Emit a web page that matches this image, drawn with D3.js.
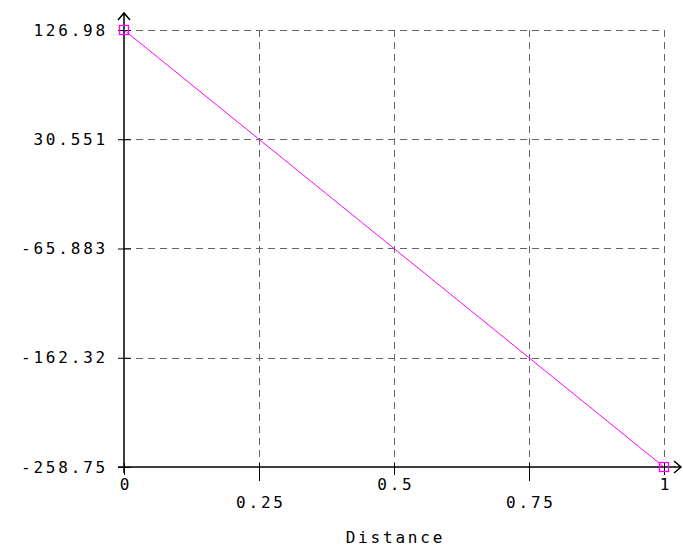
<!DOCTYPE html>
<html>
<head>
<meta charset="utf-8">
<script src="https://cdn.jsdelivr.net/npm/d3@7"></script>
<style>
  body { margin: 0; background: #fff; }
  text { font-family: "DejaVu Sans Mono", monospace; font-size: 16px; letter-spacing: 2.8px; fill: #000; }
</style>
</head>
<body>
<div id="chart"></div>
<script>
// data
const xValues = [0, 1];
const yValues = [126.98, -258.75];
const xTicks = [0, 0.25, 0.5, 0.75, 1];
const yTicks = [126.98, 30.551, -65.883, -162.32, -258.75];
const xLabel = "Distance";

const width = 683,
  height = 548,
  margin = { top: 30, bottom: 81, left: 124, right: 19 };

const svg = d3.select("#chart").append("svg")
  .attr("width", width)
  .attr("height", height);

const xScale = d3.scaleLinear()
  .domain([0, 1])
  .range([margin.left, width - margin.right]);

const yScale = d3.scaleLinear()
  .domain([-258.75, 126.98])
  .range([height - margin.bottom, margin.top]);

const x0 = xScale.range()[0], x1 = xScale.range()[1];
const yB = yScale.range()[0], yT = yScale.range()[1];

// grid
svg.append("g")
  .selectAll("line.vg")
  .data(xTicks.slice(1))
  .join("line")
  .attr("x1", d => Math.round(xScale(d)) + 0.5)
  .attr("x2", d => Math.round(xScale(d)) + 0.5)
  .attr("y1", yT)
  .attr("y2", yB)
  .attr("stroke", "#666")
  .attr("stroke-dasharray", "7,5");

svg.append("g")
  .selectAll("line.hg")
  .data(yTicks.slice(0, -1))
  .join("line")
  .attr("y1", d => Math.round(yScale(d)) + 0.5)
  .attr("y2", d => Math.round(yScale(d)) + 0.5)
  .attr("x1", x0)
  .attr("x2", x1)
  .attr("stroke", "#666")
  .attr("stroke-dasharray", "7,5");

// y axis
const yAxis = svg.append("g")
  .attr("transform", `translate(${x0},0)`)
  .call(d3.axisLeft(yScale).tickValues(yTicks).tickFormat(d => d).tickSize(6).tickPadding(10));
yAxis.select(".domain").remove();
yAxis.selectAll(".tick line").attr("x2", -6).attr("x1", 7).attr("stroke", "#000");
yAxis.selectAll("text").style("font-size", "16px").style("font-family", "DejaVu Sans Mono, monospace");

// x axis, labels staggered
const xAxis = svg.append("g")
  .attr("transform", `translate(0,${yB})`)
  .call(d3.axisBottom(xScale).tickValues(xTicks).tickFormat(d => d).tickSize(8).tickPadding(4));
xAxis.select(".domain").remove();
xAxis.selectAll(".tick line")
  .attr("y1", -4)
  .attr("y2", (d, i) => (i % 2 ? 14 : 8))
  .attr("stroke", "#000");
xAxis.selectAll(".tick text")
  .attr("y", (d, i) => (i % 2 ? 30 : 12))
  .attr("dx", "1.4px")
  .style("font-size", "16px")
  .style("font-family", "DejaVu Sans Mono, monospace");

// axis lines with arrows
svg.append("path")
  .attr("d", `M${x0},${yB + 6}V${yT - 17}M${x0 - 6},${yT - 10}L${x0},${yT - 17}L${x0 + 6},${yT - 10}`)
  .attr("fill", "none")
  .attr("stroke", "#000")
  .attr("stroke-width", 1.5);

svg.append("path")
  .attr("d", `M${x0 - 6},${yB}H${x1 + 17}M${x1 + 10},${yB - 6}L${x1 + 17},${yB}L${x1 + 10},${yB + 6}`)
  .attr("fill", "none")
  .attr("stroke", "#000")
  .attr("stroke-width", 1.5);

// axis title
svg.append("text")
  .attr("x", (x0 + x1) / 2 + 1.4)
  .attr("y", yB + 76)
  .attr("text-anchor", "middle")
  .text(xLabel);

// series
const pts = xValues.map((x, i) => ({ x, y: yValues[i] }));

svg.append("path")
  .datum(pts)
  .attr("fill", "none")
  .attr("stroke", "#ff00ff")
  .attr("stroke-width", 1)
  .attr("d", d3.line().x(d => xScale(d.x)).y(d => yScale(d.y)));

svg.selectAll("rect.marker")
  .data(pts)
  .join("rect")
  .attr("class", "marker")
  .attr("x", d => xScale(d.x) - 4.5)
  .attr("y", d => yScale(d.y) - 4.5)
  .attr("width", 9)
  .attr("height", 9)
  .attr("fill", "none")
  .attr("stroke", "#ff00ff")
  .attr("stroke-width", 1.3);
</script>
</body>
</html>
